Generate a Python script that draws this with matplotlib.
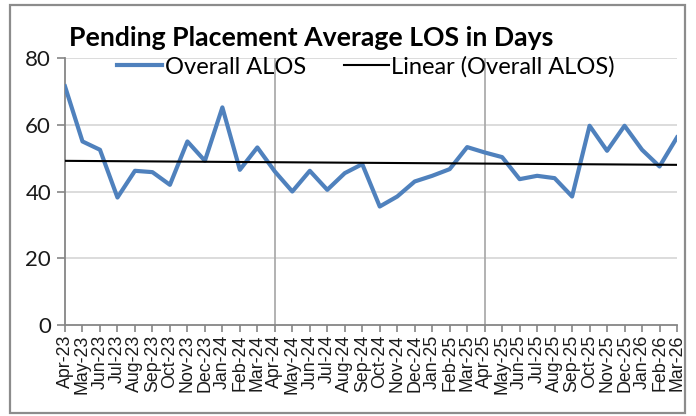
import numpy as np
import matplotlib
matplotlib.use("Agg")
import matplotlib.pyplot as plt
from matplotlib.patches import Rectangle

months = ["Apr-23","May-23","Jun-23","Jul-23","Aug-23","Sep-23","Oct-23","Nov-23","Dec-23",
          "Jan-24","Feb-24","Mar-24","Apr-24","May-24","Jun-24","Jul-24","Aug-24","Sep-24",
          "Oct-24","Nov-24","Dec-24","Jan-25","Feb-25","Mar-25","Apr-25","May-25","Jun-25",
          "Jul-25","Aug-25","Sep-25","Oct-25","Nov-25","Dec-25","Jan-26","Feb-26","Mar-26"]
alos = [71.5, 55.0, 52.5, 38.2, 46.2, 45.8, 42.0, 55.0, 49.2,
        65.2, 46.5, 53.2, 46.0, 40.0, 46.2, 40.5, 45.5, 48.2,
        35.5, 38.5, 43.0, 44.7, 46.7, 53.3, 51.7, 50.3, 43.7,
        44.7, 44.0, 38.5, 59.7, 52.2, 59.7, 52.5, 47.5, 56.2]
y_ticks = [0, 20, 40, 60, 80]
title = "Pending Placement Average LOS in Days"
series_name = "Overall ALOS"
trend_name = "Linear (Overall ALOS)"

W, H = 696, 416
fig = plt.figure(figsize=(W/100, H/100), dpi=100)
ax = fig.add_axes([65/W, 1-325/H, (677-65)/W, (325-58)/H])

x = np.arange(len(alos))
coef = np.polyfit(x, alos, 1)
trend = np.polyval(coef, x)

for yv in y_ticks[1:]:
    ax.axhline(yv, color="#d9d9d9", lw=1.3, zorder=0)
for xv in (12, 24):
    ax.axvline(xv, color="#a6a6a6", lw=1.2, zorder=0)

ax.plot(x, alos, color="#4f81bd", lw=3.0, solid_joinstyle="round", label=series_name, zorder=3)
ax.plot(x, trend, color="black", lw=1.5, label=trend_name, zorder=4)

ax.set_xlim(0, len(alos)-1)
ax.set_ylim(0, 80)
ax.set_yticks(y_ticks)
ax.set_xticks(x)
ax.set_xticklabels(months, rotation=90, fontsize=12.8, family="Liberation Sans", color="#1a1a1a")
for lab in ax.get_yticklabels():
    lab.set_fontfamily("Lato")
    lab.set_fontsize(16)
    lab.set_color("#1a1a1a")
for s in ("top", "right"):
    ax.spines[s].set_visible(False)
for s in ("left", "bottom"):
    ax.spines[s].set_color("#868686")
    ax.spines[s].set_linewidth(1.3)
ax.tick_params(axis="x", length=5, width=1.2, color="#868686", pad=2)
ax.tick_params(axis="y", length=6, width=1.2, color="#868686", pad=4)

fig.text(311/W, 1-38/H, title, ha="center", va="center", fontsize=19.2,
         fontweight="bold", family="Lato", color="black")

leg = ax.legend(loc="center", bbox_to_anchor=(366/W, 1-67/H), bbox_transform=fig.transFigure,
                ncol=2, frameon=False, prop={"family": "Lato", "size": 17},
                handlelength=1.9, handletextpad=0.1, columnspacing=1.6, borderpad=0)

fig.add_artist(Rectangle((10/W, 1-413/H), 675/W, 408/H, transform=fig.transFigure,
                         fill=False, edgecolor="#8c8c8c", lw=1.6))

fig.savefig("out.png", dpi=100, facecolor="white")
